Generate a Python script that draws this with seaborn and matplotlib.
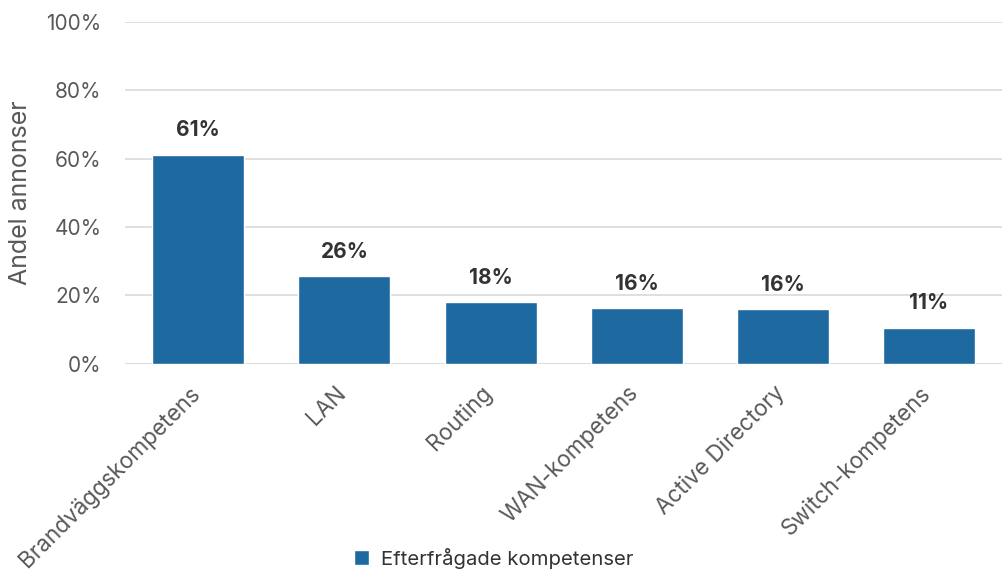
import matplotlib
matplotlib.use("Agg")
import matplotlib.pyplot as plt
import matplotlib.transforms as mtransforms
import pandas as pd
import seaborn as sns
from matplotlib.patches import Patch
from matplotlib.ticker import PercentFormatter

categories = [
    "Brandväggskompetens",
    "LAN",
    "Routing",
    "WAN-kompetens",
    "Active Directory",
    "Switch-kompetens",
]
shares = [61.2, 25.6, 18.0, 16.3, 16.0, 10.6]
labels = ["61%", "26%", "18%", "16%", "16%", "11%"]
series_name = "Efterfrågade kompetenser"

BAR_COLOR = "#1f69a1"
TEXT_COLOR = "#595959"

sns.set_style("white")
plt.rcParams["font.family"] = ["Inter", "DejaVu Sans"]

df = pd.DataFrame({"kompetens": categories, "andel": shares})

fig = plt.figure(figsize=(10.02, 5.73), dpi=100)
ax = fig.add_axes([0.125, 0.365, 0.875, 0.597])

sns.barplot(data=df, x="kompetens", y="andel", color=BAR_COLOR, width=0.63,
            saturation=1, ax=ax)

ax.set_ylim(0, 100)
ax.set_yticks(range(0, 101, 20))
ax.yaxis.set_major_formatter(PercentFormatter(decimals=0))
ax.grid(axis="y", color="#d9d9d9", linewidth=1.2)
ax.set_axisbelow(True)
for side in ["top", "right", "left", "bottom"]:
    ax.spines[side].set_visible(False)
ax.axhline(0, color="#d9d9d9", linewidth=1.2, zorder=0)

ax.tick_params(axis="y", length=0, labelsize=15, colors=TEXT_COLOR, pad=17)
ax.tick_params(axis="x", length=0, colors=TEXT_COLOR, pad=13)
# nudge the rotated labels a little to the left, like the original
shift = mtransforms.ScaledTranslation(-7 / 72, 0, fig.dpi_scale_trans)
for tick_label in ax.get_xticklabels():
    tick_label.set_rotation(45)
    tick_label.set_ha("right")
    tick_label.set_rotation_mode("anchor")
    tick_label.set_fontsize(16.2)
    tick_label.set_transform(tick_label.get_transform() + shift)
ax.set_xlabel("")
ax.set_ylabel("Andel annonser", fontsize=18, color=TEXT_COLOR)
ax.yaxis.set_label_coords(-0.106, 0.5)

for i, (v, lab) in enumerate(zip(shares, labels)):
    ax.text(i, v + 4.2, lab, ha="center", va="bottom", fontsize=15,
            fontweight="bold", color="#333333")

handles = [Patch(facecolor=BAR_COLOR, label=series_name)]
fig.legend(handles=handles, loc="center", bbox_to_anchor=(0.493, 0.026),
           frameon=False, fontsize=14.6, handlelength=0.75, handleheight=0.75,
           handletextpad=0.6, labelcolor="#333333")

fig.savefig("out.png", dpi=100)
